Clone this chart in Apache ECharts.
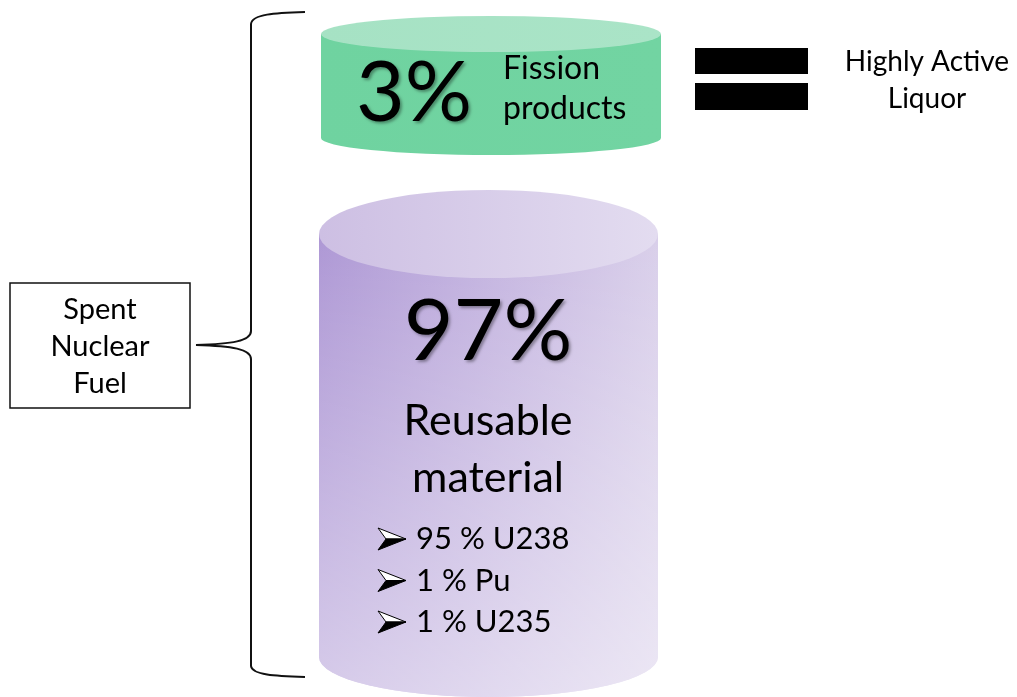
<!DOCTYPE html>
<html>
<head>
<meta charset="utf-8">
<script src="https://cdn.jsdelivr.net/npm/echarts@6/dist/echarts.min.js"></script>
<style>
  html, body { margin: 0; padding: 0; background: #fff; }
  #chart { width: 1017px; height: 697px; }
</style>
</head>
<body>
<div id="chart"></div>
<script>
// values shown in the diagram
const shares = [3, 97];
const shareNames = [['Fission', 'products'], ['Reusable', 'material']];
const isotopes = ['95 % U238', '1 % Pu', '1 % U235'];
const sourceLabel = ['Spent', 'Nuclear', 'Fuel'];
const wasteLabel = ['Highly Active', 'Liquor'];

const FONT = 'Lato, "Open Sans", sans-serif';

// layout, in chart units (x 0..1017, y 0..697 top-down)
const cylinders = [
  { x0: 321, x1: 661, top: 34, bottom: 138, ryTop: 18, ryBottom: 17,
    body: ['#6fd3a0', '#72d4a2'], lid: ['#a6e2c4', '#aae4c7'], fade: 0 },
  { x0: 319, x1: 658, top: 234, bottom: 657, ryTop: 44, ryBottom: 40,
    body: ['#ae98d5', '#d9cfea'], lid: ['#cdbfe3', '#e3dcf0'], fade: 0.5 }
];

function grad(c, horizontal) {
  return new echarts.graphic.LinearGradient(0, 0, horizontal ? 1 : 0, horizontal ? 0 : 1,
    [{ offset: 0, color: c[0] }, { offset: 1, color: c[1] }]);
}

function txt(api, x, y, text, size, align, shadow) {
  const p = api.coord([x, y]);
  const style = {
    text: text, fontSize: size, fontFamily: FONT, fill: '#000',
    align: align || 'center', verticalAlign: 'middle'
  };
  if (shadow) {
    style.textShadowColor = 'rgba(0,0,0,0.35)';
    style.textShadowBlur = 3;
    style.textShadowOffsetX = 2;
    style.textShadowOffsetY = 2;
  }
  return { type: 'text', x: p[0], y: p[1], style: style };
}

function renderCylinder(params, api) {
  const i = params.dataIndex;
  const c = cylinders[i];
  const a = api.coord([c.x0, c.top]);
  const b = api.coord([c.x1, c.bottom]);
  const rx = (b[0] - a[0]) / 2;
  const ryT = api.coord([0, c.top + c.ryTop])[1] - a[1];
  const ryB = api.coord([0, c.bottom + c.ryBottom])[1] - b[1];
  const bodyPath = 'M' + a[0] + ' ' + a[1] + ' L' + a[0] + ' ' + b[1] +
    ' A' + rx + ' ' + ryB + ' 0 0 0 ' + b[0] + ' ' + b[1] +
    ' L' + b[0] + ' ' + a[1] + ' Z';
  const lidPath = 'M' + a[0] + ' ' + a[1] +
    ' A' + rx + ' ' + ryT + ' 0 1 1 ' + b[0] + ' ' + a[1] +
    ' A' + rx + ' ' + ryT + ' 0 1 1 ' + a[0] + ' ' + a[1] + ' Z';
  const children = [
    { type: 'path', shape: { pathData: bodyPath }, style: { fill: grad(c.body, true) } }
  ];
  if (c.fade) {
    children.push({ type: 'path', shape: { pathData: bodyPath },
      style: { fill: new echarts.graphic.LinearGradient(0, 0, 0, 1, [
        { offset: 0, color: 'rgba(255,255,255,0)' },
        { offset: 1, color: 'rgba(255,255,255,' + c.fade + ')' }]) } });
  }
  children.push({ type: 'path', shape: { pathData: lidPath }, style: { fill: grad(c.lid, true) } });

  const pct = api.value(1) + '%';
  if (i === 0) {
    children.push(txt(api, 414, 94, pct, 84, 'center', true));
    children.push(txt(api, 503, 69, shareNames[0][0], 32, 'left'));
    children.push(txt(api, 503, 109, shareNames[0][1], 32, 'left'));
  } else {
    children.push(txt(api, 488, 332, pct, 86, 'center', true));
    children.push(txt(api, 488, 421, shareNames[1][0], 43, 'center'));
    children.push(txt(api, 488, 478, shareNames[1][1], 43, 'center'));
    isotopes.forEach(function (s, k) {
      const y = 539 + k * 41.5;
      const tip = api.coord([406, y]), tl = api.coord([378, y - 11]);
      const notch = api.coord([386, y]), bl = api.coord([378, y + 11]);
      children.push({ type: 'polygon', shape: { points: [tl, tip, notch] },
        style: { fill: '#fff', stroke: '#000', lineWidth: 1 } });
      children.push({ type: 'polygon', shape: { points: [notch, tip, bl] },
        style: { fill: '#000', stroke: '#000', lineWidth: 1 } });
      children.push(txt(api, 416, y, s, 31, 'left'));
    });
  }
  return { type: 'group', children: children };
}

function renderNotes(params, api) {
  const P = function (x, y) { return api.coord([x, y]); };
  const pt = function (x, y) { const p = P(x, y); return p[0] + ' ' + p[1]; };
  const brace = 'M' + pt(305, 12) + ' C' + pt(275, 13) + ' ' + pt(252, 14) + ' ' + pt(251, 24) +
    ' L' + pt(251, 331) + ' C' + pt(251, 341) + ' ' + pt(232, 344) + ' ' + pt(196, 345) +
    ' C' + pt(232, 346) + ' ' + pt(251, 349) + ' ' + pt(251, 359) +
    ' L' + pt(251, 666) + ' C' + pt(252, 675) + ' ' + pt(275, 676) + ' ' + pt(305, 677);
  const box0 = P(10, 283), box1 = P(190, 408);
  const bar0 = P(695, 48), bar1 = P(808, 74);
  const bar2 = P(695, 83), bar3 = P(808, 110);
  const children = [
    { type: 'path', shape: { pathData: brace },
      style: { fill: 'none', stroke: '#111', lineWidth: 2 } },
    { type: 'rect', shape: { x: box0[0], y: box0[1], width: box1[0] - box0[0], height: box1[1] - box0[1] },
      style: { fill: '#fff', stroke: '#111', lineWidth: 1.5 } },
    { type: 'rect', shape: { x: bar0[0], y: bar0[1], width: bar1[0] - bar0[0], height: bar1[1] - bar0[1] },
      style: { fill: '#000' } },
    { type: 'rect', shape: { x: bar2[0], y: bar2[1], width: bar3[0] - bar2[0], height: bar3[1] - bar2[1] },
      style: { fill: '#000' } }
  ];
  sourceLabel.forEach(function (s, k) {
    children.push(txt(api, 100, 310 + k * 37, s, 29, 'center'));
  });
  wasteLabel.forEach(function (s, k) {
    children.push(txt(api, 927, 62 + k * 37, s, 28, 'center'));
  });
  return { type: 'group', children: children };
}

const chart = echarts.init(document.getElementById('chart'));
chart.setOption({
  backgroundColor: '#fff',
  animation: false,
  grid: { left: 0, right: 0, top: 0, bottom: 0 },
  xAxis: { type: 'value', min: 0, max: 1017, show: false },
  yAxis: { type: 'value', min: 0, max: 697, inverse: true, show: false },
  series: [
    {
      type: 'custom',
      name: 'notes',
      renderItem: renderNotes,
      data: [[0, 0]]
    },
    {
      type: 'custom',
      name: 'share',
      renderItem: renderCylinder,
      data: shares.map(function (v, i) { return [i, v]; })
    }
  ]
});
</script>
</body>
</html>
